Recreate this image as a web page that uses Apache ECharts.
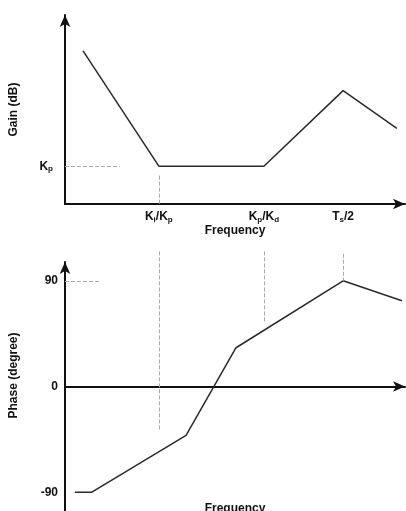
<!DOCTYPE html>
<html>
<head>
<meta charset="utf-8">
<script src="https://cdn.jsdelivr.net/npm/echarts@6/dist/echarts.min.js"></script>
<style>
  html, body { margin: 0; padding: 0; background: #fff; }
  #chart { width: 406px; height: 511px; }
</style>
</head>
<body>
<div id="chart"></div>
<script>
// corner frequencies (same on both plots)
const knotFreq = [27.6, 58.5, 81.8];
const knotLabels = ['{b|K}{s|i}{b|/K}{s|p}', '{b|K}{s|p}{b|/K}{s|d}', '{b|T}{s|s}{b|/2}'];

// gain curve
const gainFreq = [5.3, 27.6, 58.5, 81.8, 97.6];
const gainDb = [81, 20, 20, 60, 40];
const kpLevel = 20;

// phase curve
const phaseFreq = [2.9, 7.9, 35.6, 50.3, 81.8, 99.1];
const phaseDeg = [-90, -90, -41.6, 33, 90, 73];
const phaseTicks = [90, 0, -90];

const ink = '#111';
const curveColor = '#2a2a2a';
const guide = { type: 'dashed', color: '#aaa', width: 1 };
const font = 'Liberation Sans, Arial, sans-serif';

const rich = {
  b: { fontSize: 12, fontWeight: 'bold', color: ink, fontFamily: font },
  s: { fontSize: 8, fontWeight: 'bold', color: ink, fontFamily: font, verticalAlign: 'bottom', padding: [6, 0, 0, 0] }
};
const nameStyle = { fontSize: 12, fontWeight: 'bold', color: ink, fontFamily: font };

function pairs(xs, ys) {
  return xs.map((x, i) => [x, ys[i]]);
}

function axisLine() {
  return {
    show: true,
    symbol: ['none', 'arrow'],
    symbolSize: [8, 12],
    lineStyle: { color: ink, width: 2 }
  };
}

const chart = echarts.init(document.getElementById('chart'));

const option = {
  backgroundColor: '#fff',
  animation: false,
  grid: [
    { left: 65, right: 1, top: 15, bottom: 307, outerBoundsMode: 'none' },
    { left: 65, right: 1, top: 262, bottom: 0, outerBoundsMode: 'none' },
    // same scale as the phase grid, a bit taller, only for the guide lines
    { left: 65, right: 1, top: 250, bottom: 0, outerBoundsMode: 'none' }
  ],
  xAxis: [
    {
      gridIndex: 0, type: 'value', min: 0, max: 100,
      axisLine: axisLine(), axisTick: { show: false }, splitLine: { show: false },
      axisLabel: {
        customValues: knotFreq, margin: 6, rich: rich,
        formatter: v => knotLabels[knotFreq.indexOf(v)] || ''
      },
      name: 'Frequency', nameLocation: 'middle', nameGap: 20, nameTextStyle: nameStyle
    },
    {
      gridIndex: 1, type: 'value', min: 0, max: 100,
      axisLine: axisLine(), axisTick: { show: false }, splitLine: { show: false },
      axisLabel: { show: false },
      name: 'Frequency', nameLocation: 'middle', nameGap: -8, nameTextStyle: nameStyle
    },
    { gridIndex: 2, type: 'value', min: 0, max: 100, show: false }
  ],
  yAxis: [
    {
      gridIndex: 0, type: 'value', min: 0, max: 100,
      axisLine: axisLine(), axisTick: { show: false }, splitLine: { show: false },
      axisLabel: {
        customValues: [kpLevel], margin: 12, rich: rich,
        formatter: () => '{b|K}{s|p}'
      },
      name: 'Gain (dB)', nameLocation: 'middle', nameGap: 45, nameTextStyle: nameStyle
    },
    {
      gridIndex: 1, type: 'value', min: -106, max: 106,
      axisLine: axisLine(), axisTick: { show: false }, splitLine: { show: false },
      axisLabel: {
        customValues: phaseTicks, margin: 7,
        fontSize: 12, fontWeight: 'bold', color: ink, fontFamily: font
      },
      name: 'Phase (degree)', nameLocation: 'middle', nameGap: 45,
      nameTextStyle: Object.assign({ padding: [0, 0, 0, 22] }, nameStyle)
    },
    { gridIndex: 2, type: 'value', min: -106, max: 116.2, show: false }
  ],
  series: [
    {
      type: 'line', xAxisIndex: 0, yAxisIndex: 0,
      data: pairs(gainFreq, gainDb),
      symbol: 'none', lineStyle: { color: curveColor, width: 1.5 },
      markLine: {
        silent: true, symbol: 'none', label: { show: false }, lineStyle: guide,
        data: [
          [{ coord: [0, kpLevel] }, { coord: [16.2, kpLevel] }],
          [{ coord: [knotFreq[0], 15] }, { coord: [knotFreq[0], 0] }]
        ]
      }
    },
    {
      type: 'line', xAxisIndex: 1, yAxisIndex: 1,
      data: pairs(phaseFreq, phaseDeg),
      symbol: 'none', lineStyle: { color: curveColor, width: 1.5 },
      markLine: {
        silent: true, symbol: 'none', label: { show: false }, lineStyle: guide,
        data: [
          [{ coord: [0, 90] }, { coord: [10.3, 90] }]
        ]
      }
    },
    {
      type: 'line', xAxisIndex: 2, yAxisIndex: 2, data: [],
      markLine: {
        silent: true, symbol: 'none', label: { show: false }, lineStyle: guide,
        data: [
          [{ coord: [knotFreq[0], 115] }, { coord: [knotFreq[0], -38] }],
          [{ coord: [knotFreq[1], 115] }, { coord: [knotFreq[1], 54] }],
          [{ coord: [knotFreq[2], 113] }, { coord: [knotFreq[2], 90] }]
        ]
      }
    }
  ]
};

chart.setOption(option);
</script>
</body>
</html>
